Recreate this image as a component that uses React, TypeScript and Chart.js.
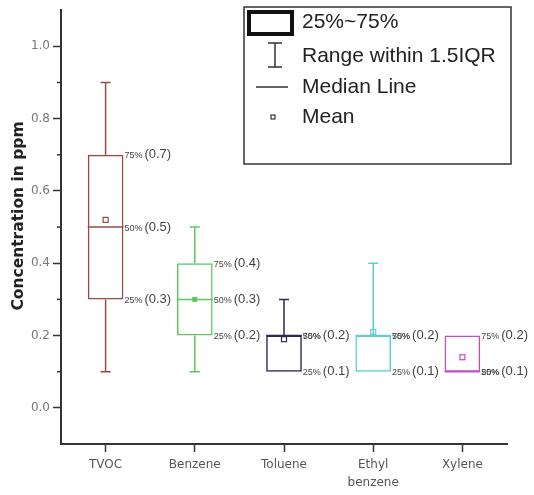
import { useEffect, useRef } from "react";
import { Chart, registerables } from "chart.js";
import type { Plugin } from "chart.js";

Chart.register(...registerables);

const categories: (string | string[])[] = ["TVOC", "Benzene", "Toluene", ["Ethyl", "benzene"], "Xylene"];
const whiskerLow = [0.1, 0.1, 0.1, 0.1, 0.1];
const quartile1 = [0.3, 0.2, 0.1, 0.1, 0.1];
const medians = [0.5, 0.3, 0.2, 0.2, 0.1];
const quartile3 = [0.7, 0.4, 0.2, 0.2, 0.2];
const whiskerHigh = [0.9, 0.5, 0.3, 0.4, 0.2];
const means = [0.52, 0.3, 0.19, 0.21, 0.14];
const boxColors = ["#9a4844", "#5cc85c", "#2a2a52", "#5ccfd0", "#c24fc2"];
const meanFilled = [false, true, false, false, false];
const yTicks = [0, 0.2, 0.4, 0.6, 0.8, 1.0];
const yMinorTicks = [0.1, 0.3, 0.5, 0.7, 0.9];
const yTitle = "Concentration in ppm";
const legendLabels = ["25%~75%", "Range within 1.5IQR", "Median Line", "Mean"];

const boxPlotPlugin: Plugin<"bar"> = {
  id: "boxPlot",
  afterDatasetsDraw(chart) {
    const ctx = chart.ctx;
    const y = chart.scales.y;
    const meta = chart.getDatasetMeta(0);
    ctx.save();
    meta.data.forEach((el: any, i) => {
      const cx = el.x;
      const half = el.width / 2;
      const color = boxColors[i];
      ctx.strokeStyle = color;
      ctx.fillStyle = color;
      ctx.lineWidth = 1.5;
      const cap = 5;
      // whiskers
      const drawWhisker = (from: number, to: number) => {
        if (from === to) return;
        const y0 = y.getPixelForValue(from);
        const y1 = y.getPixelForValue(to);
        ctx.beginPath();
        ctx.moveTo(cx, y0);
        ctx.lineTo(cx, y1);
        ctx.moveTo(cx - cap, y1);
        ctx.lineTo(cx + cap, y1);
        ctx.stroke();
      };
      drawWhisker(quartile3[i], whiskerHigh[i]);
      drawWhisker(quartile1[i], whiskerLow[i]);
      // median
      const my = y.getPixelForValue(medians[i]);
      ctx.beginPath();
      ctx.moveTo(cx - half, my);
      ctx.lineTo(cx + half, my);
      ctx.stroke();
      // mean
      const mny = y.getPixelForValue(means[i]);
      ctx.lineWidth = 1.2;
      if (meanFilled[i]) ctx.fillRect(cx - 2.5, mny - 2.5, 5, 5);
      else ctx.strokeRect(cx - 2.5, mny - 2.5, 5, 5);

      // quartile labels
      const marks: [number, string][] = [
        [quartile3[i], "75%"],
        [medians[i], "50%"],
        [quartile1[i], "25%"],
      ];
      const groups = new Map<number, string[]>();
      marks.forEach(([v, p]) => {
        if (!groups.has(v)) groups.set(v, []);
        groups.get(v)!.push(p);
      });
      const lx = cx + half + 1;
      ctx.fillStyle = "#444";
      ctx.textBaseline = "middle";
      groups.forEach((pcts, v) => {
        const py = y.getPixelForValue(v);
        ctx.font = "9px 'Liberation Sans'";
        let w = 0;
        pcts.forEach((p) => {
          ctx.fillText(p, lx, py + 1);
          w = Math.max(w, ctx.measureText(p).width);
        });
        ctx.font = "13px 'Liberation Sans'";
        ctx.fillText("(" + v.toFixed(1) + ")", lx + w + 2, py);
      });
    });

    // minor ticks on y axis
    const left = chart.chartArea.left;
    ctx.strokeStyle = "#333";
    ctx.lineWidth = 1.5;
    yMinorTicks.forEach((v) => {
      const py = y.getPixelForValue(v);
      ctx.beginPath();
      ctx.moveTo(left - 4, py);
      ctx.lineTo(left, py);
      ctx.stroke();
    });

    // y axis title
    ctx.save();
    ctx.translate(19, 216);
    ctx.rotate(-Math.PI / 2);
    ctx.fillStyle = "#222";
    ctx.font = "bold 15.5px 'DejaVu Sans'";
    ctx.textAlign = "center";
    ctx.textBaseline = "middle";
    ctx.fillText(yTitle, 0, 0);
    ctx.restore();

    // legend
    ctx.strokeStyle = "#333";
    ctx.lineWidth = 1.5;
    ctx.strokeRect(244, 7, 267, 157);
    ctx.strokeStyle = "#111";
    ctx.lineWidth = 4;
    ctx.strokeRect(249, 12, 43, 22);
    ctx.lineWidth = 1.5;
    ctx.strokeStyle = "#333";
    ctx.beginPath();
    ctx.moveTo(275, 43);
    ctx.lineTo(275, 67);
    ctx.moveTo(268, 43);
    ctx.lineTo(282, 43);
    ctx.moveTo(268, 67);
    ctx.lineTo(282, 67);
    ctx.moveTo(256, 87);
    ctx.lineTo(288, 87);
    ctx.stroke();
    ctx.lineWidth = 1.2;
    ctx.strokeRect(271, 115, 4, 4);
    const rows = [22, 56, 87, 117];
    ctx.fillStyle = "#222";
    ctx.font = "21px 'Liberation Sans'";
    ctx.textBaseline = "middle";
    legendLabels.forEach((t, k) => ctx.fillText(t, 302, rows[k]));
    ctx.restore();
  },
};

export default function App() {
  const canvasRef = useRef<HTMLCanvasElement>(null);
  const chartRef = useRef<Chart | null>(null);

  useEffect(() => {
    if (!canvasRef.current) return;
    chartRef.current?.destroy();

    chartRef.current = new Chart(canvasRef.current, {
      type: "bar",
      data: {
        labels: categories,
        datasets: [
          {
            data: categories.map((_, i) => [quartile1[i], quartile3[i]]) as any,
            backgroundColor: "rgba(255,255,255,0)",
            borderColor: boxColors,
            borderWidth: 1.5,
            borderSkipped: false,
            barPercentage: 0.4,
            categoryPercentage: 1,
          },
        ],
      },
      options: {
        animation: false,
        responsive: true,
        maintainAspectRatio: false,
        layout: { padding: { top: 8, right: 27, bottom: 0, left: 0 } },
        plugins: {
          legend: { display: false },
          tooltip: { enabled: false },
        },
        scales: {
          x: {
            type: "category",
            offset: true,
            grid: {
              offset: false,
              drawOnChartArea: false,
              drawTicks: true,
              tickLength: 8,
              tickWidth: 1.5,
              tickColor: "#333",
            },
            border: { display: true, color: "#333", width: 2 },
            ticks: {
              color: "#555",
              padding: 4,
              maxRotation: 0,
              font: { family: "'DejaVu Sans'", size: 12, lineHeight: 1.5 },
            },
            afterFit: (scale) => {
              scale.height = 51;
            },
          },
          y: {
            min: -0.1,
            max: 1.1,
            afterBuildTicks: (scale) => {
              scale.ticks = yTicks.map((v) => ({ value: v }));
            },
            grid: {
              drawOnChartArea: false,
              drawTicks: true,
              tickLength: 8,
              tickWidth: 1.5,
              tickColor: "#333",
            },
            border: { display: true, color: "#333", width: 2 },
            ticks: {
              color: "#777",
              padding: 3,
              font: { family: "'DejaVu Sans'", size: 12 },
              callback: (v) => Number(v).toFixed(1),
            },
            afterFit: (scale) => {
              scale.width = 61;
            },
          },
        },
      },
      plugins: [boxPlotPlugin],
    });

    return () => {
      chartRef.current?.destroy();
      chartRef.current = null;
    };
  }, []);

  return (
    <div style={{ position: "absolute", left: 0, top: 0, width: 534, height: 495, background: "#fff" }}>
      <canvas ref={canvasRef} />
    </div>
  );
}
